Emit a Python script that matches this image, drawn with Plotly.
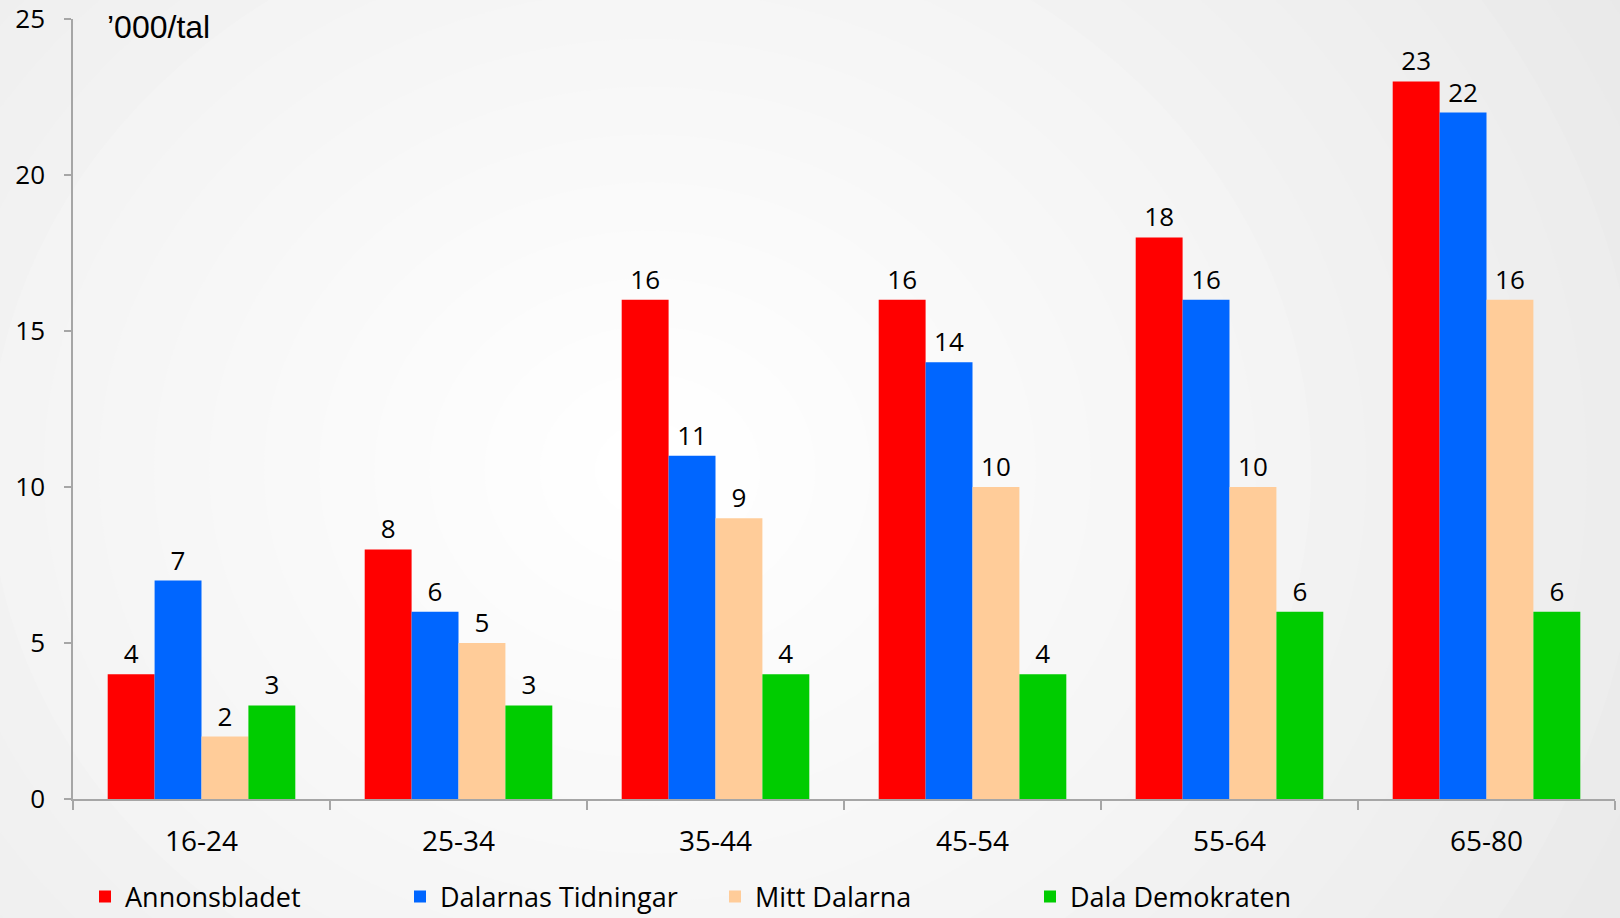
import plotly.graph_objects as go

categories = ["16-24", "25-34", "35-44", "45-54", "55-64", "65-80"]
series_names = ["Annonsbladet", "Dalarnas Tidningar", "Mitt Dalarna", "Dala Demokraten"]
annonsbladet = [4, 8, 16, 16, 18, 23]
dalarnas_tidningar = [7, 6, 11, 14, 16, 22]
mitt_dalarna = [2, 5, 9, 10, 10, 16]
dala_demokraten = [3, 3, 4, 4, 6, 6]
y_ticks = [0, 5, 10, 15, 20, 25]
unit_label = "’000/tal"

series_values = [annonsbladet, dalarnas_tidningar, mitt_dalarna, dala_demokraten]
colors = ["#FF0000", "#0066FF", "#FFCC99", "#00CC00"]

W, H = 1620, 918
ML, MR, MT, MB = 73, 5, 19, 119
PW, PH = W - ML - MR, H - MT - MB
FONT = "'Open Sans', 'Noto Sans', sans-serif"

fig = go.Figure()
for name, vals, col in zip(series_names, series_values, colors):
    fig.add_trace(go.Bar(
        name=name, x=categories, y=vals, marker_color=col,
        marker_line_width=0,
        text=vals, textposition="outside", cliponaxis=False,
        textfont=dict(size=26, color="black", family=FONT),
    ))

# radial gradient background (style only)
def px2paper(px, py):
    return (px - ML) / PW, (H - MB - py) / PH

cx, cy = 650, 470
shapes = []
outer_gray = 0xE4
steps = 24
for i in range(steps):
    r = 1150 * (1 - i / steps)
    g = int(outer_gray + (255 - outer_gray) * (i / (steps - 1)) ** 0.8)
    x0, y0 = px2paper(cx - r * 1.15, cy + r)
    x1, y1 = px2paper(cx + r * 1.15, cy - r)
    shapes.append(dict(type="circle", xref="paper", yref="paper",
                       x0=x0, y0=y0, x1=x1, y1=y1, layer="below",
                       line=dict(width=0),
                       fillcolor=f"rgb({g},{g},{g})"))

fig.update_layout(
    width=W, height=H,
    margin=dict(l=ML, r=MR, t=MT, b=MB, autoexpand=False),
    paper_bgcolor=f"rgb({outer_gray},{outer_gray},{outer_gray})",
    plot_bgcolor="rgba(0,0,0,0)",
    barmode="group", bargap=0.27, bargroupgap=0,
    shapes=shapes,
    font=dict(family=FONT, size=26, color="black"),
    showlegend=True,
    legend=dict(orientation="h", xref="container", yref="container",
                x=(100 - 15) / W, xanchor="left", y=1 - 897 / H, yanchor="middle",
                font=dict(size=27, family=FONT), entrywidth=270,
                bgcolor="rgba(0,0,0,0)", traceorder="normal"),
    xaxis=dict(type="category", showline=True, linecolor="#A6A6A6", linewidth=1.5,
               ticks="outside", tickson="boundaries", ticklen=9, tickcolor="#A6A6A6",
               tickwidth=1.5, showgrid=False, tickfont=dict(size=28, family=FONT),
               ticklabelstandoff=17, automargin=False),
    yaxis=dict(range=[0, 25], tickvals=y_ticks, showline=True, linecolor="#A6A6A6",
               linewidth=1.5, ticks="outside", ticklen=7, tickcolor="#A6A6A6",
               tickwidth=1.5, showgrid=False, zeroline=False, automargin=False,
               tickfont=dict(size=26, family=FONT), ticklabelstandoff=14),
    annotations=[dict(text=unit_label, xref="paper", yref="paper",
                      x=(105 - ML) / PW, y=(H - MB - 27) / PH,
                      xanchor="left", yanchor="middle", showarrow=False,
                      font=dict(size=32, family="'Liberation Sans', Arial, sans-serif",
                                color="black"))],
)

fig.write_html("out.html", config={"displayModeBar": False},
               post_script="document.body.style.margin='0';document.body.style.overflow='hidden';")
